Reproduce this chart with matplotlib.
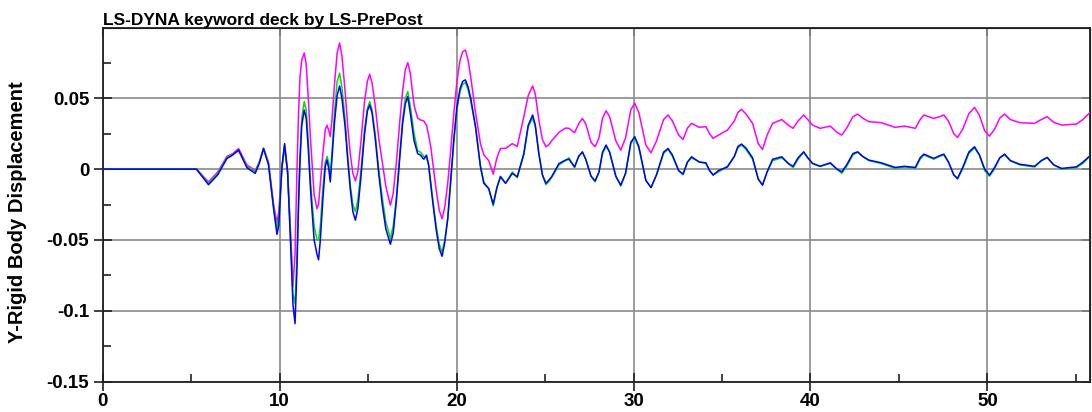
import matplotlib
matplotlib.use("Agg")
import matplotlib.pyplot as plt
from matplotlib.ticker import MultipleLocator

plt.rcParams["font.family"] = ["Liberation Sans", "DejaVu Sans"]

# Time (s) and Y rigid-body displacement for the three runs
time = [
    # quiet start and first pulses
    0, 5.3, 5.98, 6.5, 7.02, 7.35, 7.68, 8.15, 8.62, 8.85, 9.09, 9.37, 9.66, 9.85,
    9.95, 10.13, 10.28, 10.45, 10.66, 10.75, 10.87,
    # strong shaking
    10.98, 11.07, 11.15, 11.25, 11.39, 11.5, 11.62, 11.75, 11.95, 12.11, 12.2, 12.3,
    12.45, 12.58, 12.68, 12.78, 12.86, 12.96, 13.1, 13.25, 13.39, 13.52, 13.7, 13.85,
    14.0, 14.14, 14.28, 14.42, 14.6, 14.8, 14.96, 15.09, 15.22, 15.4, 15.6, 15.8,
    16.0, 16.26, 16.42, 16.6, 16.8, 16.95, 17.1, 17.24, 17.38, 17.6, 17.8, 17.96,
    18.15, 18.3, 18.42, 18.55, 18.7, 18.85, 19.02, 19.18, 19.33, 19.5, 19.68, 19.85,
    20.02, 20.2, 20.35, 20.5, 20.65, 20.8, 21.07,
    # decay
    21.35, 21.54, 21.82, 22.07, 22.28, 22.48, 22.77, 23.15, 23.43, 23.8, 24.05,
    # residual oscillation
    24.3, 24.45, 24.65, 24.85, 25.05, 25.2, 25.37, 25.79, 26.16, 26.35, 26.67, 26.9,
    27.11, 27.3, 27.6, 27.83, 28.05, 28.25, 28.45, 28.65, 29.0, 29.28, 29.55, 29.85,
    30.07, 30.3, 30.7, 30.99, 31.3, 31.7, 31.95, 32.2, 32.55, 32.8, 33.05, 33.28,
    33.72, 34.09, 34.3, 34.5, 34.8, 35.31, 35.7, 35.9, 36.1, 36.35, 36.73, 37.05,
    37.29, 37.55, 37.86, 38.38, 38.75, 39.02, 39.3, 39.62, 39.85, 40.12, 40.55, 41.12,
    41.5, 41.77, 42.05, 42.4, 42.67, 42.95, 43.3, 43.99, 44.79, 45.31, 45.93, 46.2,
    46.41, 46.97, 47.3, 47.54, 47.8, 48.1, 48.31, 48.6, 48.95, 49.27, 49.55, 49.85,
    50.12, 50.4, 50.7, 50.97, 51.3, 51.82, 52.67, 53.05, 53.38, 53.75, 54.2, 55.03,
    55.4, 55.78,
]

disp_magenta = [
    0, 0, -0.009, -0.002, 0.009, 0.011, 0.0145, 0.003, -0.001, 0.005, 0.0146, 0.005,
    -0.025, -0.038, -0.03, 0.001, 0.015, -0.002, -0.055, -0.083, -0.06,
    0.0, 0.04, 0.065, 0.077, 0.082, 0.074, 0.05, 0.02, -0.018, -0.028, -0.025, -0.01,
    0.012, 0.028, 0.031, 0.027, 0.023, 0.035, 0.06, 0.082, 0.089, 0.08, 0.055, 0.03,
    0.01, -0.003, -0.0083, -0.002, 0.02, 0.048, 0.062, 0.067, 0.061, 0.045, 0.022, 0.005,
    -0.012, -0.0255, -0.017, 0.005, 0.035, 0.055, 0.07, 0.0752, 0.068, 0.045, 0.036, 0.0347,
    0.034, 0.031, 0.024, 0.015, 0.0, -0.015, -0.029, -0.035, -0.027, -0.01, 0.015, 0.04,
    0.062, 0.077, 0.083, 0.084, 0.077, 0.065, 0.04,
    0.018, 0.01, 0.006, -0.0035, 0.008, 0.0146, 0.0146, 0.018, 0.016, 0.037, 0.052,
    0.0587, 0.053, 0.0347, 0.021, 0.0158, 0.017, 0.02, 0.026, 0.029, 0.0288, 0.0257, 0.032,
    0.0358, 0.032, 0.019, 0.0158, 0.022, 0.036, 0.0412, 0.037, 0.02, 0.0134, 0.022, 0.042,
    0.0465, 0.04, 0.017, 0.0115, 0.02, 0.035, 0.0382, 0.034, 0.024, 0.021, 0.029, 0.0323,
    0.0295, 0.030, 0.025, 0.0217, 0.024, 0.0276, 0.034, 0.040, 0.0422, 0.039, 0.0323, 0.018,
    0.0139, 0.024, 0.0323, 0.035, 0.031, 0.0288, 0.034, 0.0382, 0.035, 0.0311, 0.0288, 0.0304,
    0.026, 0.024, 0.029, 0.037, 0.0389, 0.036, 0.0335, 0.0328, 0.0295, 0.0304, 0.0288, 0.035,
    0.0382, 0.0358, 0.037, 0.0382, 0.034, 0.025, 0.0224, 0.028, 0.039, 0.0436, 0.038, 0.027,
    0.0233, 0.028, 0.036, 0.0389, 0.035, 0.0328, 0.0323, 0.035, 0.037, 0.033, 0.0311, 0.0318,
    0.035, 0.0398,
]

disp_green = [
    0, 0, -0.010, -0.003, 0.008, 0.0105, 0.013, 0.002, -0.002, 0.005, 0.0146, 0.004,
    -0.027, -0.042, -0.035, 0.0016, 0.017, -0.002, -0.06, -0.088, -0.095,
    -0.06, -0.024, 0.01, 0.036, 0.0476, 0.042, 0.02, -0.01, -0.04, -0.05, -0.05, -0.04,
    -0.012, 0.005, 0.009, 0.004, -0.005, 0.012, 0.04, 0.062, 0.0677, 0.058, 0.035, 0.01,
    -0.012, -0.025, -0.030, -0.022, 0.0, 0.028, 0.043, 0.0476, 0.042, 0.025, 0.0, -0.02,
    -0.037, -0.049, -0.04, -0.02, 0.012, 0.035, 0.05, 0.0547, 0.045, 0.025, 0.013, 0.012,
    0.009, 0.008, 0.003, -0.01, -0.026, -0.04, -0.053, -0.0585, -0.05, -0.035, -0.008, 0.02,
    0.042, 0.055, 0.06, 0.061, 0.056, 0.048, 0.030,
    0.002, -0.009, -0.014, -0.026, -0.013, -0.005, -0.010, -0.002, -0.006, 0.010, 0.03,
    0.036, 0.030, 0.011, -0.004, -0.011, -0.009, -0.006, 0.003, 0.006, 0.008, 0.001, 0.009,
    0.012, 0.007, -0.005, -0.009, -0.002, 0.011, 0.016, 0.012, -0.005, -0.012, -0.003, 0.018,
    0.022, 0.015, -0.008, -0.013, -0.004, 0.011, 0.014, 0.009, -0.001, -0.004, 0.005, 0.008,
    0.005, 0.004, -0.001, -0.004, -0.002, 0.002, 0.009, 0.015, 0.017, 0.014, 0.007, -0.007,
    -0.011, -0.002, 0.006, 0.008, 0.004, 0.001, 0.007, 0.012, 0.008, 0.004, 0.002, 0.004,
    0.000, -0.003, 0.002, 0.010, 0.012, 0.009, 0.006, 0.004, 0.0005, 0.0015, 0.0005, 0.007,
    0.010, 0.007, 0.009, 0.010, 0.005, -0.004, -0.007, 0.000, 0.011, 0.015, 0.010, -0.001,
    -0.005, 0.0, 0.008, 0.010, 0.006, 0.003, 0.0015, 0.006, 0.008, 0.003, 0.0, 0.001,
    0.004, 0.009,
]

disp_blue = [
    0, 0, -0.011, -0.004, 0.0075, 0.010, 0.0135, 0.001, -0.003, 0.004, 0.0146, 0.003,
    -0.028, -0.046, -0.040, 0.0016, 0.018, -0.002, -0.065, -0.095, -0.109,
    -0.07, -0.024, 0.005, 0.031, 0.0417, 0.036, 0.014, -0.015, -0.05, -0.06, -0.064, -0.05,
    -0.02, 0.002, 0.0064, 0.0, -0.009, 0.008, 0.033, 0.052, 0.0587, 0.05, 0.03, 0.006,
    -0.015, -0.03, -0.036, -0.028, -0.005, 0.025, 0.041, 0.0453, 0.04, 0.022, -0.003, -0.025,
    -0.042, -0.053, -0.045, -0.022, 0.01, 0.032, 0.046, 0.0511, 0.04, 0.02, 0.011, 0.0099,
    0.007, 0.0099, 0.003, -0.012, -0.028, -0.043, -0.056, -0.0615, -0.052, -0.035, -0.006, 0.022,
    0.044, 0.057, 0.062, 0.063, 0.058, 0.05, 0.030,
    0.0016, -0.010, -0.0137, -0.0248, -0.013, -0.0054, -0.010, -0.003, -0.0054, 0.011, 0.031,
    0.0382, 0.031, 0.011, -0.004, -0.010, -0.008, -0.0054, 0.004, 0.0064, 0.007, 0.0016, 0.009,
    0.0122, 0.007, -0.005, -0.0083, -0.002, 0.012, 0.017, 0.012, -0.005, -0.0113, -0.003, 0.019,
    0.0229, 0.016, -0.008, -0.013, -0.004, 0.012, 0.0146, 0.010, -0.001, -0.0035, 0.005, 0.0087,
    0.005, 0.0045, -0.001, -0.0042, -0.001, 0.0016, 0.009, 0.016, 0.0177, 0.015, 0.008, -0.007,
    -0.0113, -0.002, 0.007, 0.0087, 0.004, 0.002, 0.008, 0.0122, 0.008, 0.004, 0.002, 0.0045,
    0.000, -0.0019, 0.003, 0.011, 0.0122, 0.009, 0.0064, 0.0045, 0.0012, 0.002, 0.0012, 0.008,
    0.0106, 0.0076, 0.0095, 0.0106, 0.005, -0.004, -0.0066, 0.001, 0.012, 0.0158, 0.010, 0.0,
    -0.0042, 0.001, 0.008, 0.0106, 0.006, 0.0035, 0.002, 0.006, 0.0083, 0.003, 0.0005, 0.0016,
    0.005, 0.0092,
]

x_major = [0, 10, 20, 30, 40, 50]
y_major = [-0.15, -0.1, -0.05, 0, 0.05]
y_labels = ["-0.15", "-0.1", "-0.05", "0", "0.05"]

W, H, DPI = 1092, 412, 100
fig = plt.figure(figsize=(W / DPI, H / DPI), dpi=DPI)
ax = fig.add_axes([102.7 / W, 1 - 381.7 / H, (1090 - 102.7) / W, (381.7 - 28) / H])

lw = 1.1
ax.plot(time, disp_magenta, color="#ff00ff", lw=lw, zorder=3)
ax.plot(time, disp_green, color="#00e000", lw=lw, zorder=4)
ax.plot(time, disp_blue, color="#0000ff", lw=lw, zorder=5)

ax.set_xlim(0, 55.8)
ax.set_ylim(-0.15, 0.0996)

ax.set_xticks(x_major)
ax.set_yticks(y_major)
ax.set_yticklabels(y_labels)
ax.xaxis.set_minor_locator(MultipleLocator(5))
ax.yaxis.set_minor_locator(MultipleLocator(0.025))

ax.grid(True, which="major", color="#8a8a8a", lw=1.2)
ax.set_axisbelow(True)

for s in ax.spines.values():
    s.set_color("#202020")
    s.set_linewidth(1.3)

ax.tick_params(which="major", direction="inout", length=12.5, width=1.2, colors="#202020",
               labelsize=13.5)
ax.tick_params(axis="y", which="major", pad=3.5)
ax.tick_params(axis="x", which="major", pad=2)
ax.tick_params(which="minor", direction="in", length=6, width=1.2, colors="#202020")
for lab in ax.get_xticklabels() + ax.get_yticklabels():
    lab.set_fontweight("bold")
    lab.set_color("black")

# inward ticks on top and right edges
top = ax.secondary_xaxis("top")
top.set_xticks(x_major)
top.tick_params(direction="in", length=6, width=1.2, labeltop=False, colors="#202020")
right = ax.secondary_yaxis("right")
right.set_yticks(y_major)
right.tick_params(direction="in", length=6, width=1.2, labelright=False, colors="#202020")

fig.text(18 / W, 1 - 212 / H, "Y-Rigid Body Displacement", fontsize=14.5, fontweight="bold",
         rotation=90, ha="center", va="center")

fig.text(102.7 / W, 1 - 25 / H, "LS-DYNA keyword deck by LS-PrePost", fontsize=12.5,
         fontweight="bold", ha="left", va="baseline")

fig.savefig("out.png", dpi=DPI)
